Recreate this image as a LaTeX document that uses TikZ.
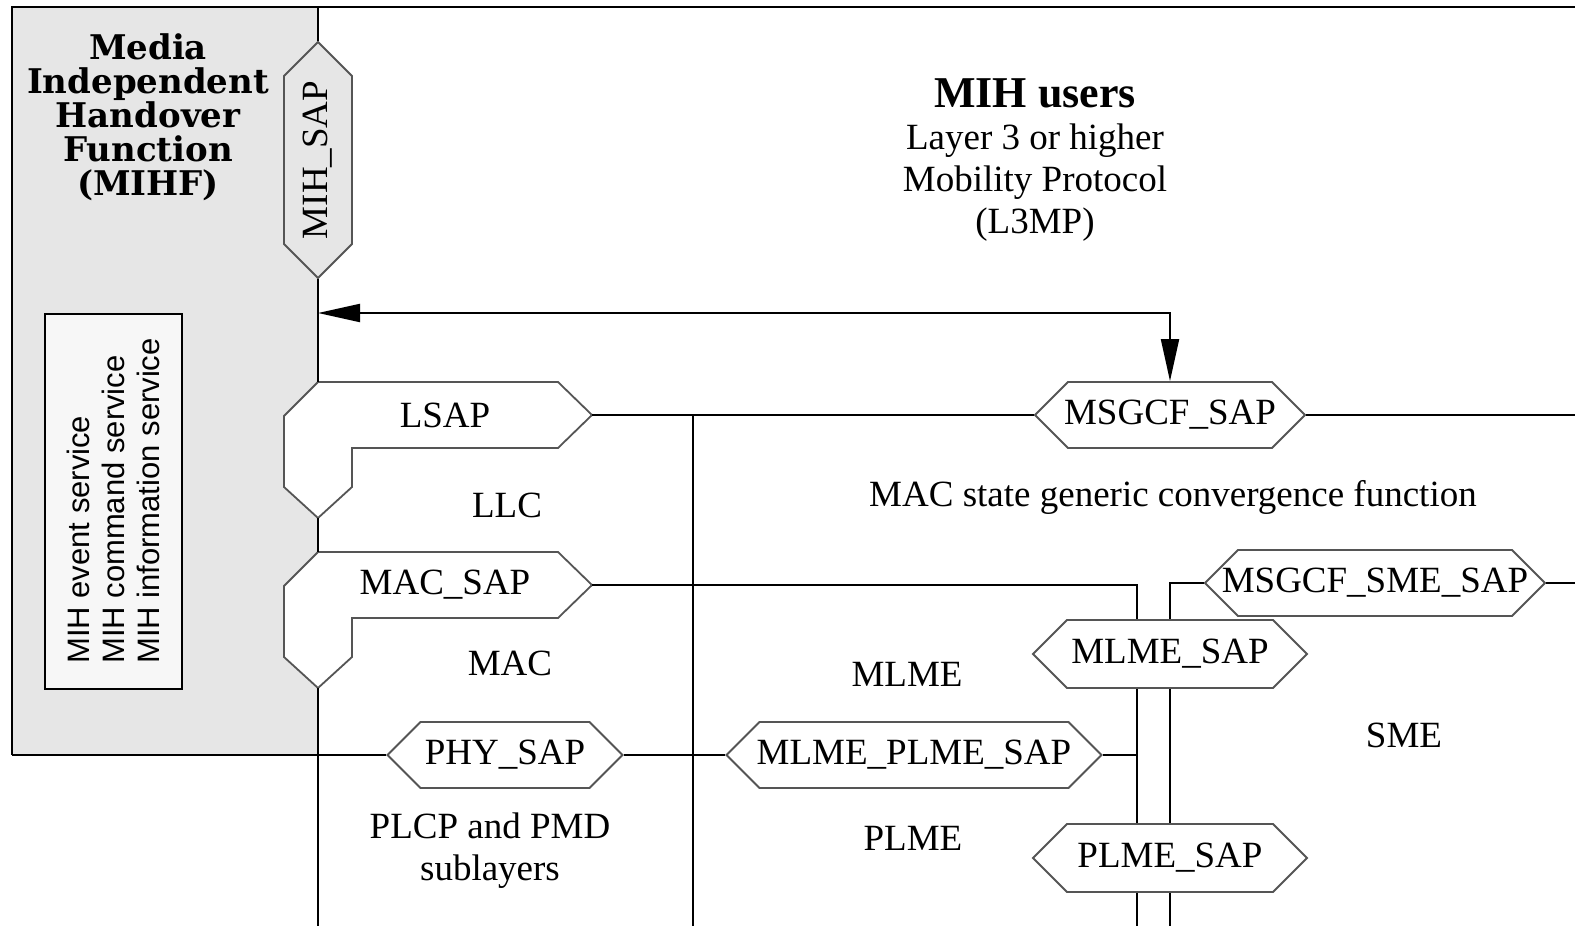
\documentclass[tikz,border=0pt]{standalone}
\usepackage{fontspec}
\setmainfont{Liberation Serif}
\setsansfont{Liberation Sans}
\newfontfamily\titlefont{DejaVu Serif}
\usetikzlibrary{arrows.meta,shapes.symbols}
\definecolor{mihgray}{RGB}{230,230,230}
\definecolor{svcgray}{RGB}{247,247,247}
\definecolor{edgegray}{RGB}{85,85,85}

\begin{document}
\begin{tikzpicture}[x=0.5pt,y=-0.5pt,
  font=\fontsize{18.5}{21}\selectfont,
  >={Triangle[length=21pt,width=9pt]},
  conn/.style={line width=1pt, draw=black},
  sapbox/.style={
    signal, signal to=east and west, signal pointer angle=90,
    draw=edgegray, line width=0.9pt, fill=white,
    inner sep=0pt, minimum height=33pt,
    execute at begin node={\hbox to 0pt\bgroup\hss},
    execute at end node={\hss\egroup}
  },
  lbl/.style={align=center, inner sep=0pt},
  svc/.style={
    rectangle, draw=black, line width=1pt, fill=svcgray,
    align=left, inner sep=0pt,
    font=\sffamily\fontsize{15.5}{17.5}\selectfont
  }
]
\useasboundingbox (0,0) rectangle (1575,926);

% frame and MIHF block
\fill[mihgray] (12,7) rectangle (318,755);
\coordinate (topl) at (12,7);
\coordinate (topr) at (1575,7);
\coordinate (botl) at (12,755);
\coordinate (stemtop) at (318,7);
\coordinate (stembot) at (318,926);
\coordinate (arrtail) at (318,313);
\coordinate (llcbus) at (693,415);
\coordinate (llcbot) at (693,926);
\coordinate (busA) at (1137,926);
\coordinate (busB) at (1170,926);
\coordinate (redgeA) at (1575,415);
\coordinate (redgeB) at (1575,583);
\draw[conn] (topr) -- (topl) -- (botl);

\node[lbl, font=\titlefont\bfseries\fontsize{17}{17}\selectfont] (mihf) at (148,117)
  {Media\\Independent\\Handover\\Function\\(MIHF)};
\node[svc, rotate=90, minimum width=187.5pt, minimum height=68.5pt] (svcbox) at (113.5,501)
  {MIH event service\\MIH command service\\MIH information service};

% SAP nodes
\node[sapbox, fill=mihgray, rotate=90, minimum width=118pt, minimum height=34pt] (mihsap) at (318,160) {MIH\_SAP};
\node[sapbox, minimum width=135pt] (msgcf) at (1170,415) {MSGCF\_SAP};
\node[sapbox, minimum width=170pt] (msme) at (1375,583) {MSGCF\_SME\_SAP};
\node[sapbox, minimum width=187.5pt] (mlplme) at (914,755) {MLME\_PLME\_SAP};
\node[sapbox, minimum width=117.5pt] (physap) at (505,755) {PHY\_SAP};

% left stem with the LSAP and MAC_SAP brackets
\draw[conn] (stemtop) -- (mihsap.east);
\foreach \dy/\nm/\txt in {0/lsap/LSAP, 170/macsap/MAC\_SAP} {
  \draw[edgegray, line width=0.9pt, fill=white]
    (318,382+\dy) coordinate (\nm-top) -- (558,382+\dy) -- (592,415+\dy) coordinate (\nm-tip)
    -- (558,448+\dy) -- (352,448+\dy) -- (352,487+\dy) -- (318,518+\dy) coordinate (\nm-bot)
    -- (284,487+\dy) -- (284,416+\dy) -- cycle;
  \node[lbl] (\nm) at (445,415+\dy) {\txt};
}
\draw[conn] (mihsap.west) -- (lsap-top);
\draw[conn] (lsap-bot) -- (macsap-top);
\draw[conn] (macsap-bot) -- (stembot);

% connectors
\draw[conn, <->] (arrtail) -| (msgcf.north);
\draw[conn] (lsap-tip) -- (msgcf.west);
\draw[conn] (msgcf.east) -- (redgeA);
\draw[conn] (llcbus) -- (llcbot);
\draw[conn] (macsap-tip) -| (busA);
\draw[conn] (msme.west) -| (busB);
\draw[conn] (msme.east) -- (redgeB);
\draw[conn] (mlplme.east) -- (mlplme.east -| busA);
\draw[conn] (mlplme.west) -- (physap.east);
\draw[conn] (physap.west) -- (botl);

\node[sapbox, minimum width=137pt, minimum height=34pt] (mlmesap) at (1170,654) {MLME\_SAP};
\node[sapbox, minimum width=137pt, minimum height=34pt] (plmesap) at (1170,858) {PLME\_SAP};

% layer labels
\node[lbl] (users) at (1035,160)
  {{\fontsize{22}{26}\bfseries MIH users}\\Layer 3 or higher\\Mobility Protocol\\(L3MP)};
\node[lbl] (msgcflbl) at (1173,497) {MAC state generic convergence function};
\node[lbl] (llc) at (507,505) {LLC};
\node[lbl] (mac) at (510,663) {MAC};
\node[lbl] (mlme) at (907,674) {MLME};
\node[lbl] (sme) at (1404,735) {SME};
\node[lbl] (plme) at (913,838) {PLME};
\node[lbl] (plcp) at (490,851) {PLCP and PMD\\sublayers};
\end{tikzpicture}
\end{document}
